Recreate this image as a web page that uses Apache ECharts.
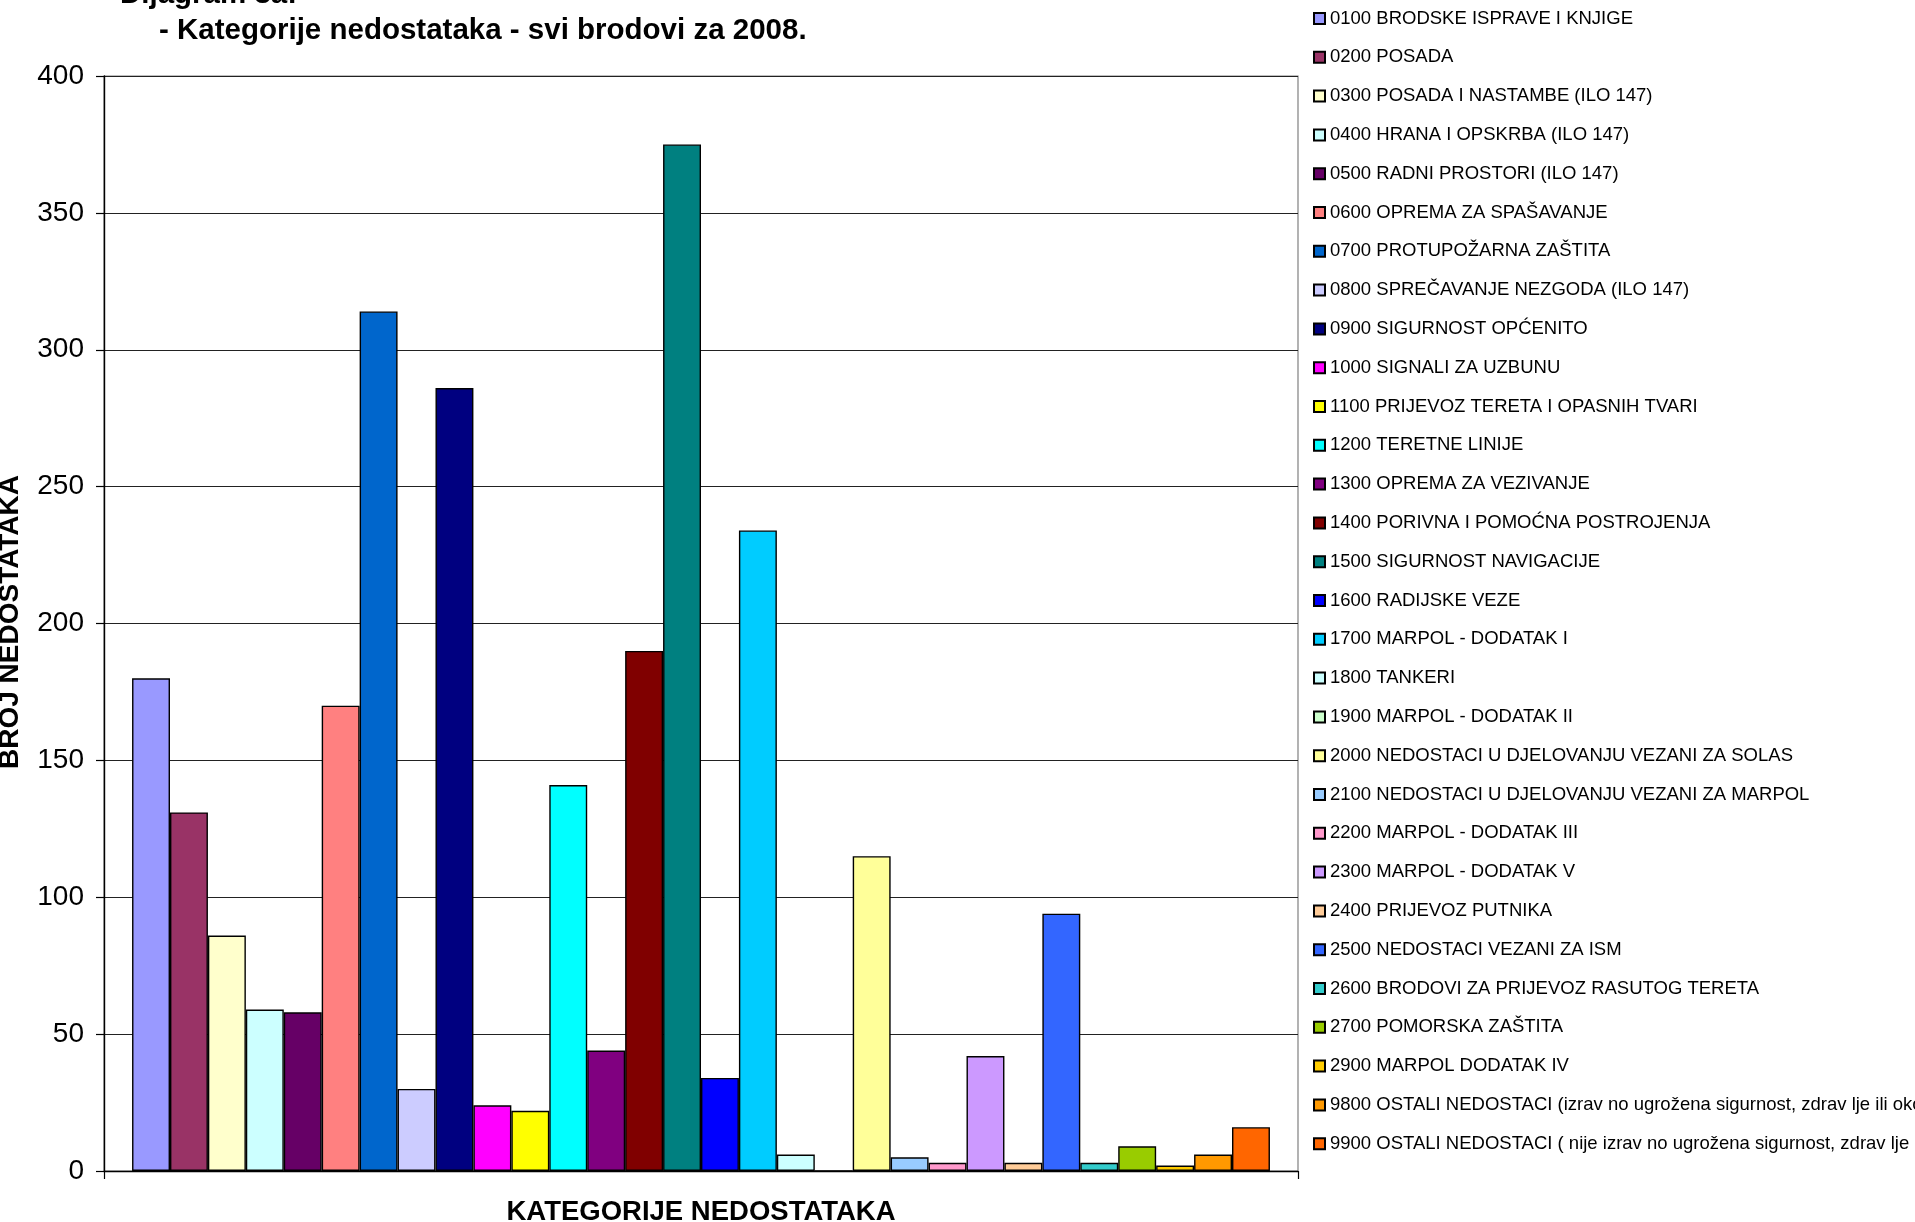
<!DOCTYPE html>
<html>
<head>
<meta charset="utf-8">
<script src="https://cdn.jsdelivr.net/npm/echarts@6/dist/echarts.min.js"></script>
<style>
html,body{margin:0;padding:0;background:#fff;}
#chart{width:1915px;height:1222px;}
</style>
</head>
<body>
<div id="chart"></div>
<script>
const categories = [""];
const seriesNames = [
  "0100 BRODSKE ISPRAVE I KNJIGE",
  "0200 POSADA",
  "0300 POSADA I NASTAMBE (ILO 147)",
  "0400 HRANA I OPSKRBA (ILO 147)",
  "0500 RADNI PROSTORI (ILO 147)",
  "0600 OPREMA ZA SPAŠAVANJE",
  "0700 PROTUPOŽARNA ZAŠTITA",
  "0800 SPREČAVANJE NEZGODA (ILO 147)",
  "0900 SIGURNOST OPĆENITO",
  "1000 SIGNALI ZA UZBUNU",
  "1100 PRIJEVOZ TERETA I OPASNIH TVARI",
  "1200 TERETNE LINIJE",
  "1300 OPREMA ZA VEZIVANJE",
  "1400 PORIVNA I POMOĆNA POSTROJENJA",
  "1500 SIGURNOST NAVIGACIJE",
  "1600 RADIJSKE VEZE",
  "1700 MARPOL - DODATAK I",
  "1800 TANKERI",
  "1900 MARPOL - DODATAK II",
  "2000 NEDOSTACI U DJELOVANJU VEZANI ZA SOLAS",
  "2100 NEDOSTACI U DJELOVANJU VEZANI ZA MARPOL",
  "2200 MARPOL - DODATAK III",
  "2300 MARPOL - DODATAK V",
  "2400 PRIJEVOZ PUTNIKA",
  "2500 NEDOSTACI VEZANI ZA ISM",
  "2600 BRODOVI ZA PRIJEVOZ RASUTOG TERETA",
  "2700 POMORSKA ZAŠTITA",
  "2900 MARPOL DODATAK IV",
  "9800 OSTALI NEDOSTACI (izrav no ugrožena sigurnost, zdrav lje ili okoliš)",
  "9900 OSTALI NEDOSTACI ( nije izrav no ugrožena sigurnost, zdrav lje ili okoliš)"
];
const seriesValues = [180,131,86,59,58,170,314,30,286,24,22,141,44,190,375,34,234,6,0,115,5,3,42,3,94,3,9,2,6,16];
const seriesColors = ["#9999FF","#993366","#FFFFCC","#CCFFFF","#660066","#FF8080","#0066CC","#CCCCFF","#000080","#FF00FF","#FFFF00","#00FFFF","#800080","#800000","#008080","#0000FF","#00CCFF","#CCFFFF","#CCFFCC","#FFFF99","#99CCFF","#FF99CC","#CC99FF","#FFCC99","#3366FF","#33CCCC","#99CC00","#FFCC00","#FF9900","#FF6600"];
const yTicks = {min:0, max:400, interval:50};
const titleLines = ["Dijagram 3a:", "- Kategorije nedostataka - svi brodovi za 2008."];
const xAxisTitle = "KATEGORIJE NEDOSTATAKA";
const yAxisTitle = "BROJ NEDOSTATAKA";

const FONT = "'Liberation Sans', Arial, sans-serif";
const chart = echarts.init(document.getElementById('chart'), null, {renderer:'canvas'});

const series = seriesNames.map((name, i) => ({
  name: name,
  type: 'bar',
  data: [seriesValues[i]],
  barGap: '0%',
  barCategoryGap: '4.7%',
  itemStyle: {color: seriesColors[i], borderColor: '#000', borderWidth: 1.4},
  emphasis: {disabled: true},
  animation: false
}));

chart.setOption({
  animation: false,
  backgroundColor: '#fff',
  textStyle: {fontFamily: FONT},
  grid: {left: 104, top: 76, width: 1194, height: 1095, show: true, borderColor: '#808080', borderWidth: 1.2, backgroundColor: 'transparent', containLabel: false, outerBoundsMode: 'none'},
  legend: {
    orient: 'vertical',
    left: 1308,
    top: 4,
    itemWidth: 11,
    itemHeight: 11,
    itemGap: 19.8,
    icon: 'rect',
    textStyle: {fontFamily: FONT, fontSize: 18.5, color: '#000', lineHeight: 18, padding: [0,0,0,0]},
    data: seriesNames,
    selectedMode: false
  },
  xAxis: {
    type: 'category',
    data: categories,
    name: xAxisTitle,
    nameLocation: 'middle',
    nameGap: 27,
    nameTextStyle: {fontFamily: FONT, fontSize: 27.5, fontWeight: 'bold', color: '#000'},
    axisLine: {lineStyle: {color: '#000', width: 1.4}},
    axisTick: {show: true, length: 8, lineStyle: {color: '#000', width: 1.2}},
    axisLabel: {show: false}
  },
  yAxis: {
    type: 'value',
    min: yTicks.min, max: yTicks.max, interval: yTicks.interval,
    axisLine: {show: true, lineStyle: {color: '#000', width: 1.4}},
    axisTick: {show: true, length: 8, lineStyle: {color: '#000', width: 1.2}},
    axisLabel: {fontFamily: FONT, fontSize: 28, color: '#000', margin: 20},
    splitLine: {lineStyle: {color: '#222', width: 1.2}}
  },
  graphic: [
    {type: 'text', left: 120, top: -20, style: {text: titleLines[0], font: "bold 29.5px 'Liberation Sans', Arial, sans-serif", fill: '#000'}},
    {type: 'text', left: 159, top: 16, style: {text: titleLines[1], font: "bold 29.5px 'Liberation Sans', Arial, sans-serif", fill: '#000'}},
    {type: 'text', x: 10, y: 622, rotation: Math.PI/2, style: {text: yAxisTitle, font: "bold 28px 'Liberation Sans', Arial, sans-serif", fill: '#000', align: 'center', verticalAlign: 'middle'}}
  ],
  series: series
});
</script>
</body>
</html>
